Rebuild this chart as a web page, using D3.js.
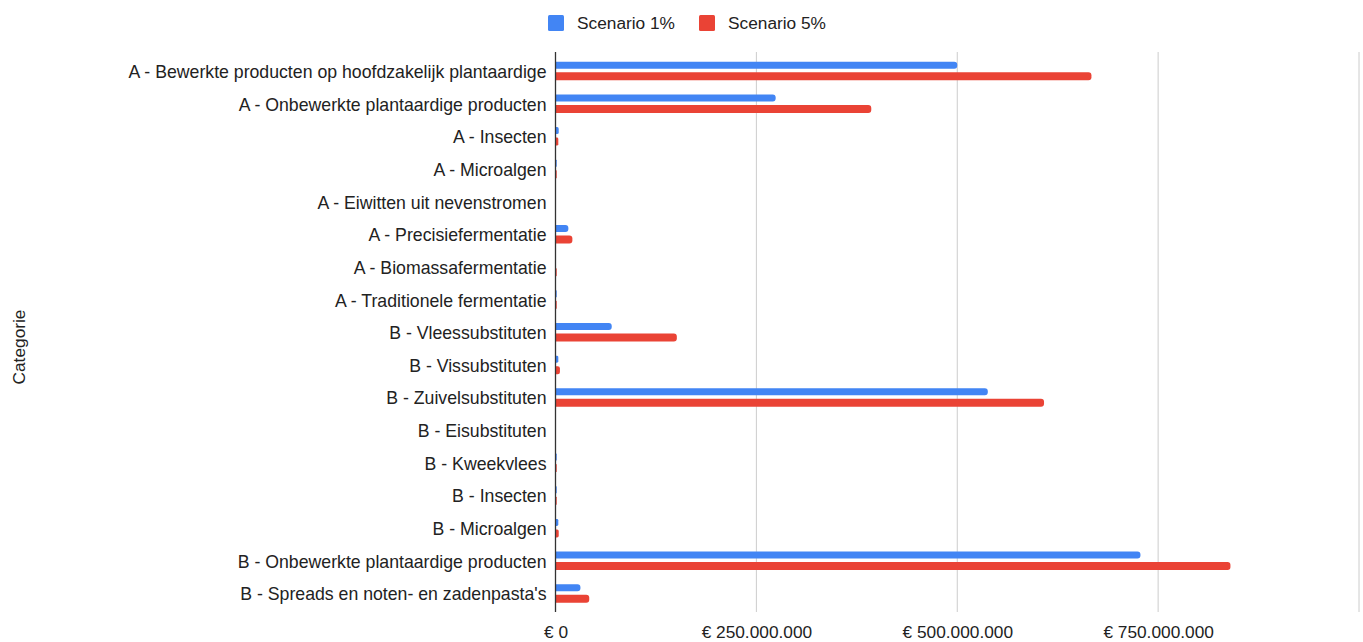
<!DOCTYPE html>
<html><head><meta charset="utf-8">
<script src="https://cdn.jsdelivr.net/npm/d3@7"></script>
<style>body{margin:0;background:#fff;} text{font-family:"Liberation Sans", Arial, sans-serif;}</style>
</head><body>
<svg id="chart" width="1363" height="642"></svg>
<script>
const categories = [
  "A - Bewerkte producten op hoofdzakelijk plantaardige",
  "A - Onbewerkte plantaardige producten",
  "A - Insecten",
  "A - Microalgen",
  "A - Eiwitten uit nevenstromen",
  "A - Precisiefermentatie",
  "A - Biomassafermentatie",
  "A - Traditionele fermentatie",
  "B - Vleessubstituten",
  "B - Vissubstituten",
  "B - Zuivelsubstituten",
  "B - Eisubstituten",
  "B - Kweekvlees",
  "B - Insecten",
  "B - Microalgen",
  "B - Onbewerkte plantaardige producten",
  "B - Spreads en noten- en zadenpasta's"
];
const seriesNames = ["Scenario 1%", "Scenario 5%"];
const scenario1 = [500e6, 274e6, 4e6, 1.5e6, 0, 16e6, 0, 1.5e6, 70e6, 3.5e6, 538e6, 0, 1.5e6, 1.5e6, 3.5e6, 728e6, 31e6];
const scenario5 = [667e6, 393e6, 3.5e6, 1.5e6, 0, 21e6, 1.5e6, 1.5e6, 151e6, 5.5e6, 608e6, 0, 1.5e6, 1.5e6, 4e6, 840e6, 42e6];
const xTicks = [0, 250e6, 500e6, 750e6, 1000e6];
const xTickLabels = ["€ 0", "€ 250.000.000", "€ 500.000.000", "€ 750.000.000", ""];
const colors = ["#4285F4", "#EA4335"];

(function () {
const FONT = '"Liberation Sans", Arial, sans-serif';
const FS = 17.7, FS2 = 17.3;
const svg = d3.select("#chart");
const mLeft = 555.5, mRight = 1359, mTop = 55, mBottom = 610;
const x = d3.scaleLinear().domain([0, 1000e6]).range([mLeft, mRight]);
const y = d3.scaleBand().domain(categories).range([mTop, mBottom]);

// gridlines
svg.append("g").selectAll("line").data(xTicks.slice(1)).join("line")
  .attr("x1", d => x(d)).attr("x2", d => x(d))
  .attr("y1", mTop - 3).attr("y2", mBottom + 2)
  .attr("stroke", "#cccccc").attr("stroke-width", 1);

// bars
const data = [scenario1, scenario5];
const barH = [7, 8];
const offs = [-9.5, 1];
data.forEach((vals, si) => {
  svg.append("g").selectAll("path").data(vals.map((v, i) => ({v, c: categories[i]})).filter(d => d.v > 0)).join("path")
    .attr("fill", colors[si])
    .attr("d", d => {
      const x0 = x(0), x1 = x(d.v), yc = y(d.c) + y.bandwidth() / 2 + offs[si], h = barH[si];
      const w = x1 - x0;
      const r = Math.min(3, w / 2, h / 2);
      return `M${x0},${yc} H${x1 - r} Q${x1},${yc} ${x1},${yc + r} V${yc + h - r} Q${x1},${yc + h} ${x1 - r},${yc + h} H${x0} Z`;
    });
});

// zero axis line
svg.append("line").attr("x1", x(0)).attr("x2", x(0)).attr("y1", mTop - 3).attr("y2", mBottom + 2)
  .attr("stroke", "#333").attr("stroke-width", 1.3);

// y labels
const yAxis = d3.axisLeft(y).tickSize(0).tickPadding(9);
const gy = svg.append("g").attr("transform", `translate(${mLeft},1)`).call(yAxis);
gy.select(".domain").remove();
gy.selectAll("text").attr("font-size", FS).attr("fill", "#222").style("font-family", FONT);

// x labels
const xAxis = d3.axisBottom(x).tickValues(xTicks).tickSize(0).tickFormat((d, i) => xTickLabels[i]);
const gx = svg.append("g").attr("transform", `translate(0,${mBottom + 13})`).call(xAxis);
gx.select(".domain").remove();
gx.selectAll("text").attr("font-size", FS2).attr("fill", "#222").style("font-family", FONT);

// y title
svg.append("text").attr("transform", "translate(25,347) rotate(-90)")
  .attr("text-anchor", "middle").attr("font-size", FS2).attr("fill", "#222").style("font-family", FONT).text("Categorie");

// legend
const legX = [548, 699];
seriesNames.forEach((n, i) => {
  svg.append("rect").attr("x", legX[i]).attr("y", 15).attr("width", 16).attr("height", 16).attr("rx", 1.5).attr("fill", colors[i]);
  svg.append("text").attr("x", legX[i] + 29).attr("y", 29).attr("font-size", FS2).attr("fill", "#222").style("font-family", FONT).text(n);
});
})();
</script>
</body></html>
